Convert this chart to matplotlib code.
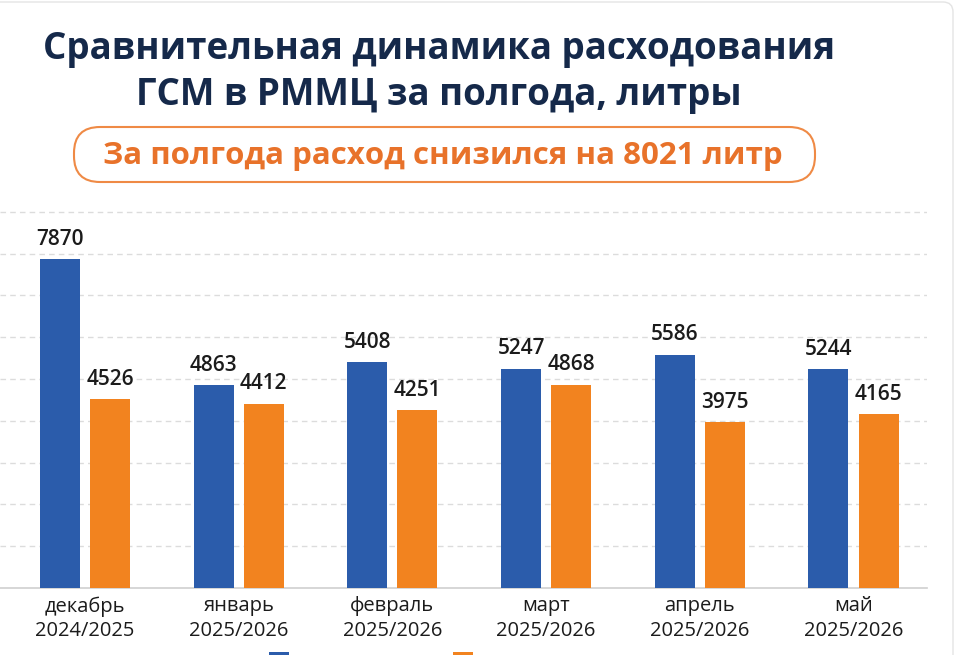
import matplotlib
matplotlib.use("Agg")
import matplotlib.pyplot as plt
from matplotlib.patches import FancyBboxPatch, Rectangle
import numpy as np

months = ["декабрь", "январь", "февраль", "март", "апрель", "май"]
seasons = ["2024/2025", "2025/2026", "2025/2026", "2025/2026", "2025/2026", "2025/2026"]
series_prev = [7870, 4863, 5408, 5247, 5586, 5244]
series_curr = [4526, 4412, 4251, 4868, 3975, 4165]

title = "Сравнительная динамика расходования\nГСМ в РММЦ за полгода, литры"
subtitle = "За полгода расход снизился на 8021 литр"

BLUE = "#2b5cab"
ORANGE = "#f2831f"
NAVY = "#15294a"
SUB = "#e8722a"

plt.rcParams['font.family'] = ['Open Sans', 'DejaVu Sans']

W, H = 956, 655
fig = plt.figure(figsize=(W / 100, H / 100), dpi=100)
fig.patch.set_facecolor("white")

# overlay axes in pixel coordinates for decorations
deco = fig.add_axes([0, 0, 1, 1], zorder=-5)
deco.set_xlim(0, W)
deco.set_ylim(H, 0)
deco.axis("off")
deco.add_patch(FancyBboxPatch((-20, 2), 973, 700,
                              boxstyle="round,pad=0,rounding_size=10",
                              facecolor="white", edgecolor="#e4e4e4", linewidth=1.0))
px0, px1, py0, py1 = 74, 815, 127, 182
deco.add_patch(FancyBboxPatch((px0, py0), px1 - px0, py1 - py0,
                              boxstyle="round,pad=0,rounding_size=26",
                              facecolor="white", edgecolor="#ef8a45", linewidth=1.5))

ax_left, ax_right = 0, 927
ax_bottom, ax_top = 588, 205
ax = fig.add_axes([ax_left / W, (H - ax_bottom) / H,
                   (ax_right - ax_left) / W, (ax_bottom - ax_top) / H])
ax.set_facecolor("none")

x = np.arange(len(months))
bw = 0.26
off = 0.163
b1 = ax.bar(x - off, series_prev, bw, color=BLUE, zorder=3)
b2 = ax.bar(x + off, series_curr, bw, color=ORANGE, zorder=3)

for xi, v in zip(x, series_prev):
    ax.text(xi - off, v + 220, f"{v}", ha="center", va="bottom",
            fontsize=15, fontweight="semibold", color="#1b1b1b", zorder=4)
for xi, v in zip(x, series_curr):
    ax.text(xi + off, v + 220, f"{v}", ha="center", va="bottom",
            fontsize=15, fontweight="semibold", color="#1b1b1b", zorder=4)

ax.set_xlim(-0.553, 5.478)
ax.set_ylim(0, 9163)
ax.set_yticks(np.arange(1000, 9001, 1000))
ax.yaxis.grid(True, linestyle=(0, (4, 3)), color="#dcdcdc", linewidth=1.0, zorder=0)
ax.tick_params(axis="y", length=0, labelleft=False)
ax.tick_params(axis="x", length=0, pad=6)
ax.set_xticks(x)
ax.set_xticklabels([f"{m}\n{s}" for m, s in zip(months, seasons)],
                   fontsize=14.5, color="#1b1b1b", linespacing=1.3)
for s in ["top", "right", "left"]:
    ax.spines[s].set_visible(False)
ax.spines["bottom"].set_color("#cfcfcf")
ax.spines["bottom"].set_linewidth(1.2)

# title
fig.text(439 / W, 1 - 72 / H, title, ha="center", va="center",
         fontsize=26.5, fontweight="bold", color=NAVY, linespacing=1.25)

fig.text((px0 + px1) / 2 / W - 0.002, 1 - 156 / H, subtitle, ha="center", va="center",
         fontsize=22.5, fontweight="bold", color=SUB)

# legend markers (their labels are cut off in the reference)
leg = fig.legend([b1, b2], ["", ""], loc="upper center",
                 bbox_to_anchor=(378 / W, 1 - 645 / H),
                 ncol=2, frameon=False, fontsize=13, handlelength=1.1,
                 handleheight=1.1, columnspacing=8.3, borderaxespad=0)

fig.savefig("out.png", dpi=100)
